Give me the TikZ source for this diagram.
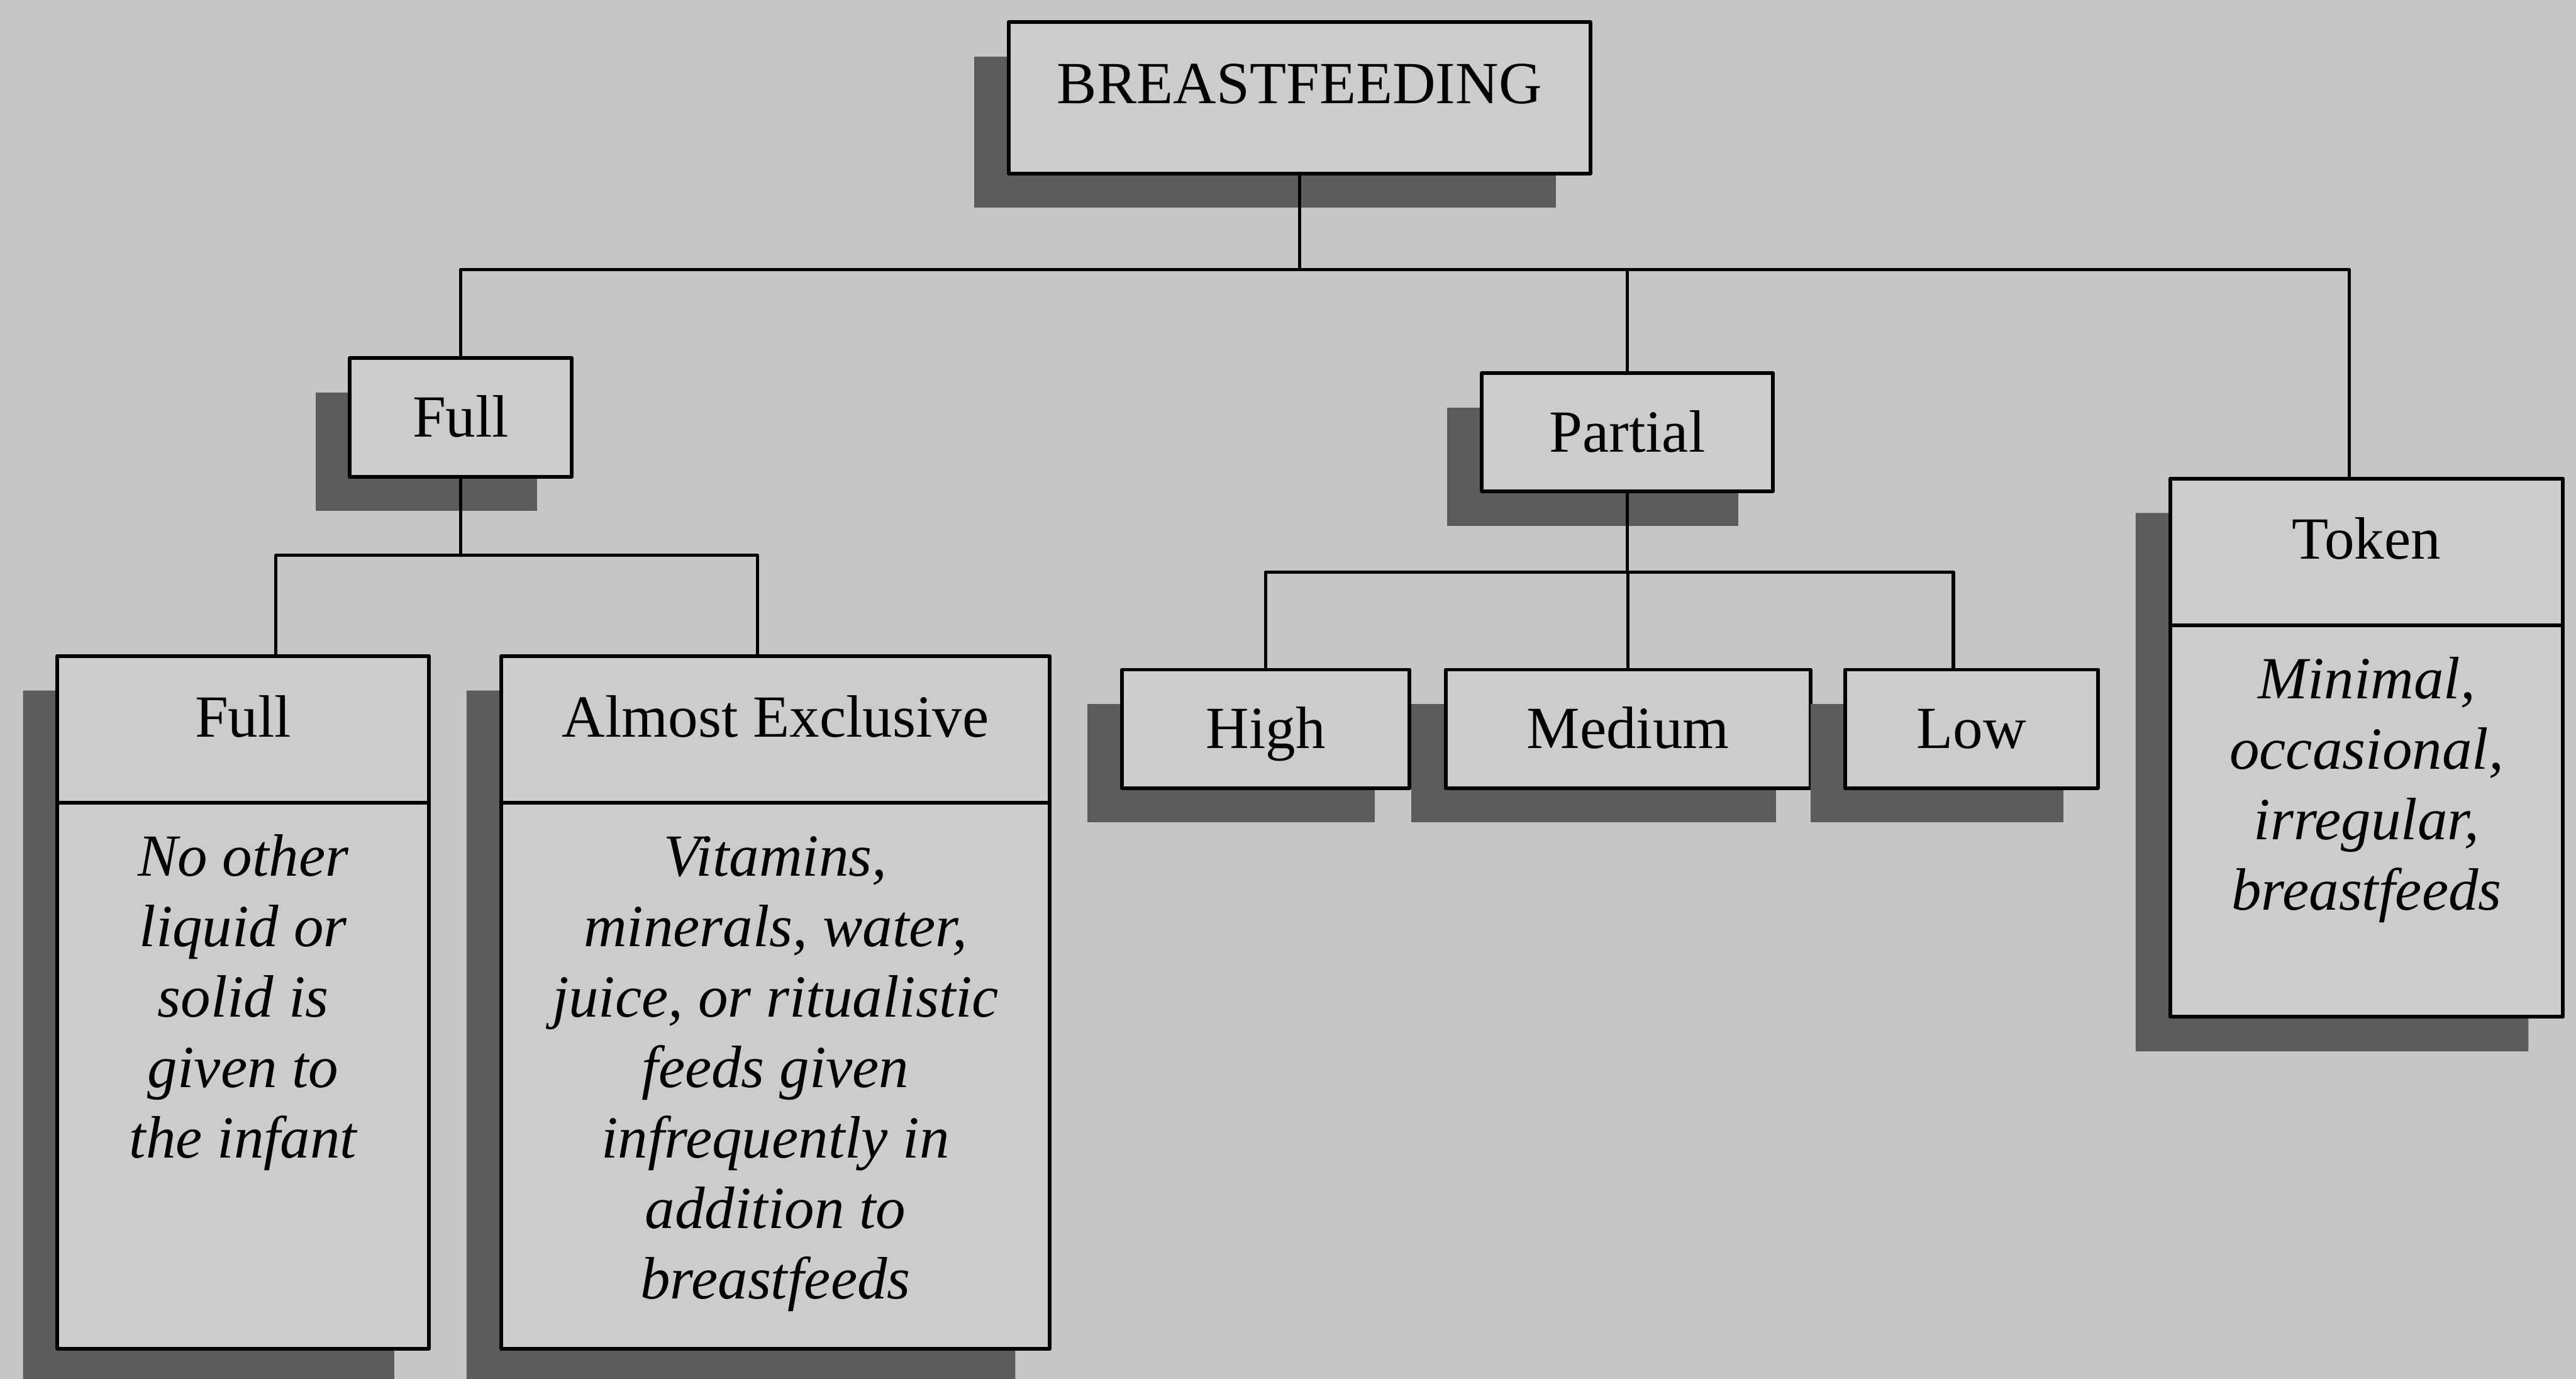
\documentclass[tikz,border=0pt]{standalone}
\usepackage{fontspec}
\setmainfont{Liberation Serif}
\usetikzlibrary{positioning,shadows,shapes.multipart}
\definecolor{paper}{RGB}{198,198,198}
\definecolor{boxfill}{RGB}{204,204,204}
\definecolor{shade}{RGB}{92,92,92}

\begin{document}
\begin{tikzpicture}[line join=round,line cap=round,font=\fontsize{20.7pt}{24.4pt}\selectfont,
		box/.style={draw,line width=1.3pt,fill=boxfill,inner sep=0pt,
			drop shadow={shadow xshift=-0.42cm,shadow yshift=-0.42cm,fill=shade,opacity=1}},
		tag/.style={box,minimum height=1.44cm,text height=0.5cm,text depth=0.02cm},
		card/.style={box,rectangle split,rectangle split parts=2,anchor=north},
		link/.style={line width=1.1pt}]
			\def\bw{31.36}
			\def\bh{16.78}
			\def\hd#1{\rule[-0.78cm]{0pt}{1.74cm}#1}
			\def\txt#1#2#3{\parbox[c][#2][t]{#1}{\centering\itshape\rule{0pt}{0.87cm}#3}}
			\useasboundingbox (0,0) rectangle (\bw,-\bh);
			\fill[paper] (0,0) rectangle (\bw,-\bh);
			% Row 1
			\node[box,minimum width=7.08cm,minimum height=1.82cm,text height=0.99cm,text depth=0.85cm] (bf) at (15.82,-1.19) {BREASTFEEDING};
			% Row 2
			\node[tag,minimum width=2.7cm] (full) at (5.61,-5.08) {Full};
			\node[tag,minimum width=3.54cm] (partial) at (19.81,-5.26) {Partial};
			\node[card] (token) at (28.81,-5.8) {\hd{Token}\nodepart{two}\txt{4.78cm}{4.72cm}{Minimal,\\occasional,\\irregular,\\breastfeeds}};
			% Row 3
			\node[card] (fullb) at (2.96,-7.96) {\hd{Full}\nodepart{two}\txt{4.52cm}{6.6cm}{No other\\liquid or\\solid is\\given to\\the infant}};
			\node[card] (almost) at (9.44,-7.96) {\hd{Almost Exclusive}\nodepart{two}\txt{6.68cm}{6.6cm}{Vitamins,\\minerals, water,\\juice, or ritualistic\\feeds given\\infrequently in\\addition to\\breastfeeds}};
			\node[tag,minimum width=3.5cm] (high) at (15.41,-8.87) {High};
			\node[tag,minimum width=4.44cm] (medium) at (19.82,-8.87) {Medium};
			\node[tag,minimum width=3.08cm] (low) at (24.0,-8.87) {Low};
			% Connectors
			\coordinate (bus) at (15.82,-3.28);
			\coordinate (fbus) at (5.61,-6.76);
			\coordinate (pbus) at (19.81,-6.96);
			\draw[link] (bf.south) -- (bus);
			\draw[link] (full.north) |- (bus);
			\draw[link] ([xshift=-0.21cm]token.north) |- (bus);
			\draw[link] (partial.north) -- (partial.north |- bus);
			\draw[link] (full.south) -- (fbus);
			\draw[link] ([xshift=0.4cm]fullb.north) |- (fbus);
			\draw[link] ([xshift=-0.22cm]almost.north) |- (fbus);
			\draw[link] (partial.south) -- (pbus);
			\draw[link] (high.north) |- (pbus);
			\draw[link] (medium.north) -- (medium.north |- pbus);
			\draw[link] ([xshift=-0.22cm]low.north) |- (pbus);
			
		\end{tikzpicture}
\end{document}
